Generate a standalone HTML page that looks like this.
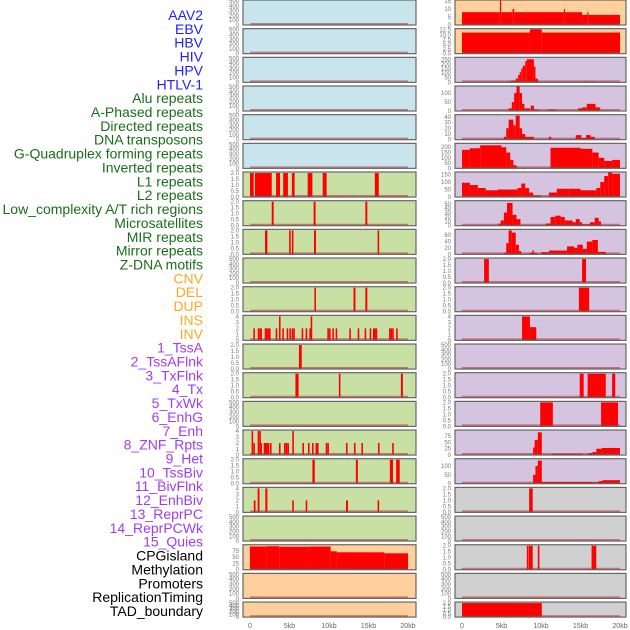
<!DOCTYPE html>
<html><head><meta charset="utf-8"><style>
body{margin:0;background:#fff;width:630px;height:630px;overflow:hidden}
svg{display:block}
</style></head><body>
<svg id="chart" width="630" height="630" xmlns="http://www.w3.org/2000/svg" font-family="Liberation Sans, sans-serif"></svg>
<script>
const trackLabels=["AAV2","EBV","HBV","HIV","HPV","HTLV-1","Alu repeats","A-Phased repeats","Directed repeats","DNA transposons","G-Quadruplex forming repeats","Inverted repeats","L1 repeats","L2 repeats","Low_complexity A/T rich regions","Microsatellites","MIR repeats","Mirror repeats","Z-DNA motifs","CNV","DEL","DUP","INS","INV","1_TssA","2_TssAFlnk","3_TxFlnk","4_Tx","5_TxWk","6_EnhG","7_Enh","8_ZNF_Rpts","9_Het","10_TssBiv","11_BivFlnk","12_EnhBiv","13_ReprPC","14_ReprPCWk","15_Quies","CPGisland","Methylation","Promoters","ReplicationTiming","TAD_boundary"];
const labelColors=["#2020ff","#2020ff","#2020ff","#2020ff","#2020ff","#2020ff","#1a6e1a","#1a6e1a","#1a6e1a","#1a6e1a","#1a6e1a","#1a6e1a","#1a6e1a","#1a6e1a","#1a6e1a","#1a6e1a","#1a6e1a","#1a6e1a","#1a6e1a","#ffa726","#ffa726","#ffa726","#ffa726","#ffa726","#a33cf0","#a33cf0","#a33cf0","#a33cf0","#a33cf0","#a33cf0","#a33cf0","#a33cf0","#a33cf0","#a33cf0","#a33cf0","#a33cf0","#a33cf0","#a33cf0","#a33cf0","#000","#000","#000","#000","#000"];
const T500=[0,100,200,300,400,500],T2=[0,0.5,1.0,1.5,2.0],T4=[0,1,2,3,4];
const leftBg=["#c8e4ec","#c8e4ec","#c8e4ec","#c8e4ec","#c8e4ec","#c8e4ec","#c8e0a4","#c8e0a4","#c8e0a4","#c8e0a4","#c8e0a4","#c8e0a4","#c8e0a4","#c8e0a4","#c8e0a4","#c8e0a4","#c8e0a4","#c8e0a4","#c8e0a4","#ffd09c","#ffd09c","#ffd09c"];
const rightBg=["#ffd09c","#ffd09c","#d4c4e0","#d4c4e0","#d4c4e0","#d4c4e0","#d4c4e0","#d4c4e0","#d4c4e0","#d4c4e0","#d4c4e0","#d4c4e0","#d4c4e0","#d4c4e0","#d4c4e0","#d4c4e0","#d4c4e0","#d0d0d0","#d0d0d0","#d0d0d0","#d0d0d0","#d0d0d0"];
const leftTicks=[T500,T500,T500,T500,T500,T500,T2,T2,T2,T500,T2,T4,T2,T2,T500,T4,T2,T4,T500,[0,25,50,75],T500,T500];
const leftMax=[500,500,500,500,500,500,2,2,2,500,2,4,2,2,500,4,2,4,500,95,500,500];
const rightTicks=[[0,5,10,15],[0,2.5,5,7.5,10,12.5],[0,50,100,150,200,250],[0,50,100],[0,10,20,30,40],[0,50,100,150,200],[0,50,100,150],[0,10,20,30,40,50],[0,20,40,60],T2,T2,T4,T500,T2,T2,[0,25,50,75],[0,50,100],T2,T500,T2,T500,T2];
const rightMax=[15,12.5,260,134,42,227,160,55,75,2,2,4,500,2,2,95,135,2,500,2,500,2];
const leftSegs=[[],[],[],[],[],[],
[[0,0.47,2],[0.63,2.75,2],[3.3,3.8,2],[4.2,4.8,2],[5.3,5.65,2],[7.3,7.9,2],[9.2,9.7,2],[15.8,16.3,2]],
[[2.75,3.0,2],[8.05,8.3,2],[14.6,14.85,2]],
[[1.9,2.2,2],[4.95,5.15,2],[5.3,5.5,2],[8.1,8.35,2],[16.15,16.35,2]],
[],
[[8.15,8.35,2],[13.1,13.35,2],[14.6,14.85,2]],
[[0.42,0.62,2],[0.97,1.17,2],[1.18,1.38,2],[1.31,1.51,2],[1.86,2.06,2],[2.03,2.23,2],[2.24,2.44,2],[2.41,2.61,2],[3.25,3.45,2],[3.67,3.87,4],[4.09,4.29,2],[4.64,4.84,2],[4.98,5.18,2],[5.27,5.47,2],[5.48,5.68,2],[6.54,6.74,2],[7.04,7.24,2],[7.51,7.71,2],[7.68,7.88,4],[9.79,9.99,2],[10.0,10.2,2],[10.42,10.62,2],[10.84,11.04,2],[12.57,12.77,2],[13.63,13.83,2],[14.51,14.71,2],[15.15,15.35,2],[15.57,15.77,2],[15.74,15.94,2],[15.91,16.11,2],[17.6,17.8,2],[17.8,18.0,2],[18.0,18.2,2],[18.5,18.7,2]],
[[6.2,6.55,2]],
[[5.75,6.15,2],[11.25,11.45,2],[19.1,19.35,2]],
[],
[[0.2,0.4,4],[0.42,0.62,2],[0.97,1.17,4],[1.18,1.38,4],[1.31,1.51,2],[1.73,1.93,2],[1.9,2.1,2],[2.07,2.27,2],[2.24,2.44,2],[2.53,2.73,2],[3.67,3.87,2],[4.3,4.5,2],[4.52,4.72,2],[4.73,4.93,2],[5.35,5.55,4],[6.63,6.83,2],[7.34,7.54,2],[7.85,8.05,2],[8.3,8.5,2],[8.48,8.68,2],[9.58,9.78,2],[9.79,9.99,2],[12.15,12.35,2],[13.16,13.36,2],[14.1,14.3,2],[16.2,16.4,2],[18.0,18.2,2]],
[[7.9,8.2,2],[13.4,13.65,2],[17.7,18.1,2],[18.5,18.95,2]],
[[0.47,0.7,2],[0.97,1.2,4],[1.94,2.2,4],[5.35,5.55,2],[7.05,7.25,2],[12.15,12.4,2],[16.15,16.35,2]],
[],
[[0,2.1,92],[2.1,3.7,93],[3.7,7.6,91],[7.6,10.2,92],[10.2,11,73],[11,17,69],[17,20,65]],
[],[]];
const rightSegs=[
[[0,4.8,8],[4.8,4.95,16],[4.95,6.4,8],[6.4,6.6,10],[6.6,12.9,8],[12.9,13.05,10],[13.05,15.2,8],[15.2,15.85,6.3],[15.85,16.0,8],[16.0,20,6.3]],
[[0,8.6,11],[8.6,10.1,12.7],[10.1,20,11]],
[[5.7,6.2,10],[6.2,6.8,20],[6.8,7.1,40],[7.1,7.3,80],[7.3,7.5,110],[7.5,7.7,150],[7.7,8.0,180],[8.0,8.2,230],[8.2,9.1,250],[9.1,9.3,170],[9.3,9.6,40],[9.6,9.9,10],[15.4,15.95,10],[16.3,16.9,10]],
[[5.9,6.3,15],[6.3,6.6,50],[6.6,6.9,100],[6.9,7.3,140],[7.3,7.6,100],[7.6,7.9,40],[7.9,8.6,15],[8.7,9.1,30],[9.1,9.7,8],[10.9,11.9,8],[14.7,15.2,15],[15.2,15.8,20],[15.8,16.9,40],[16.9,17.5,20]],
[[5.3,5.6,5],[5.6,5.9,20],[5.9,6.5,35],[6.5,6.8,25],[6.8,7.3,42],[7.3,7.6,20],[7.6,8.0,10],[8.0,9.1,5],[11.0,11.3,5],[14.4,15.1,8],[15.1,15.7,3],[15.7,16.3,8],[16.3,16.8,5]],
[[0,1.0,175],[1.0,2.3,190],[2.3,5.0,218],[5.0,5.6,200],[5.6,6.1,150],[6.1,6.5,80],[6.5,6.9,30],[6.9,7.1,10],[11.2,15,195],[15,16.5,185],[16.5,17.3,150],[17.3,18,100],[18,19,70],[19,20,80]],
[[0,1,95],[1,2,80],[2,3,60],[3,4.5,45],[4.5,7,50],[7,7.5,60],[7.5,8,90],[8,8.5,60],[8.5,9,30],[9,10,10],[11,12,30],[12,13.5,55],[13.5,15,55],[15,17,45],[17,17.5,60],[17.5,18,100],[18,18.5,140],[18.5,19,165],[19,20,155]],
[[4.6,4.9,5],[4.9,5.3,12],[5.3,5.7,30],[5.7,6.4,52],[6.4,6.9,25],[6.9,7.4,15],[10.6,11.2,5],[11.2,11.8,20],[11.8,12.5,23],[12.5,13,20],[13,14,12],[14,14.4,8],[14.4,14.9,15],[14.9,15.2,8],[15.2,16.2,3],[16.2,16.8,8],[16.8,17.3,18],[17.3,17.6,10]],
[[5.3,5.6,5],[5.6,5.9,35],[5.9,6.3,75],[6.3,6.8,68],[6.8,7.2,30],[7.2,7.5,10],[8.6,8.9,5],[8.9,9.1,12],[9.1,9.5,5],[10,11,7],[11,13.3,12],[13.3,14.2,25],[14.2,14.6,20],[14.6,15.3,30],[15.3,15.8,17],[15.8,16.5,40],[16.5,17.2,45],[17.2,18.2,8]],
[[2.8,3.4,2],[15.2,15.7,2]],
[[14.8,16.1,2]],
[[7.6,8.6,4],[8.6,9.4,2.2]],
[],
[[14.9,15.4,2],[15.9,18.2,2],[19.0,19.4,2]],
[[9.9,11.5,2],[17.6,19.75,2]],
[[9.0,9.2,30],[9.2,9.6,60],[9.6,10.1,90],[11.3,15.3,5],[16.0,16.5,8],[16.5,17.0,12],[17.0,17.7,25],[17.7,20,28]],
[[9.0,9.3,50],[9.3,9.6,100],[9.6,10.1,130],[10.1,16.5,10],[16.5,17.3,8],[17.3,17.8,15],[17.8,20,20]],
[[8.5,8.95,2]],
[],
[[8.2,8.3,2],[8.4,8.95,2],[9.6,9.8,2],[16.4,17.0,2]],
[],
[[0,10.1,2]]];
const xTickVals=[0,5,10,15,20];
const xTickLabels=["0","5kb","10kb","15kb","20kb"];

const NS="http://www.w3.org/2000/svg";
const svg=document.getElementById('chart');
function mk(tag,attrs,parent){const e=document.createElementNS(NS,tag);for(const k in attrs)e.setAttribute(k,attrs[k]);(parent||svg).appendChild(e);return e;}
const PITCH=28.67;
function rowTop(i){return i*PITCH;}
function rowH(i){return i===21?15:25;}
function fmtTicks(arr){const dec=arr.some(v=>v%1!==0);return arr.map(v=>dec?v.toFixed(1):String(v));}
const cols=[{px0:243,px1:416,d0:250,d1:408,tickX:239,bg:leftBg,ticks:leftTicks,max:leftMax,segs:leftSegs,name:'left'},
{px0:455,px1:626,d0:462,d1:620,tickX:451,bg:rightBg,ticks:rightTicks,max:rightMax,segs:rightSegs,name:'right'}];

trackLabels.forEach((t,i)=>{
  const e=mk('text',{x:203,y:20+i*13.86,'text-anchor':'end','font-size':14,fill:labelColors[i]});
  e.textContent=t;
  
  
});

cols.forEach(c=>{
  const xs=k=>c.d0+(k/20)*(c.d1-c.d0);
  for(let i=0;i<22;i++){
    const top=rowTop(i),h=rowH(i),bot=top+h;
    const g=mk('g',{});
    
    
    const r=mk('rect',{x:c.px0,y:top,width:c.px1-c.px0,height:h,fill:c.bg[i]},g);
    
    
    const ys=v=>bot-(v/c.max[i])*(h-1);
    c.segs[i].forEach(s=>{
      const b=mk('rect',{x:xs(s[0]),y:ys(s[2]),width:Math.max(1.2,xs(s[1])-xs(s[0])),height:bot-ys(s[2]),fill:'#ff0000'},g);
      
      
    });
    const bl=mk('line',{x1:xs(0),x2:xs(20),y1:bot-1,y2:bot-1,stroke:'rgba(190,40,40,0.55)','stroke-width':2},g);
    
    
    const br=mk('rect',{x:c.px0,y:top,width:c.px1-c.px0,height:h,fill:'none',stroke:'#666','stroke-width':1.2},g);
    
    
    const labs=fmtTicks(c.ticks[i]);
    c.ticks[i].forEach((v,j)=>{
      const tx=mk('text',{x:c.tickX,y:ys(v)+2,'text-anchor':'end','font-size':6,fill:'#777'},g);
      tx.textContent=labs[j];
      
      
    });
  }
  xTickVals.forEach((v,j)=>{
    const tx=mk('text',{x:xs(v),y:628,'text-anchor':'middle','font-size':7,fill:'#666'});
    tx.textContent=xTickLabels[j];
    
    
  });
});
</script>
</body></html>
